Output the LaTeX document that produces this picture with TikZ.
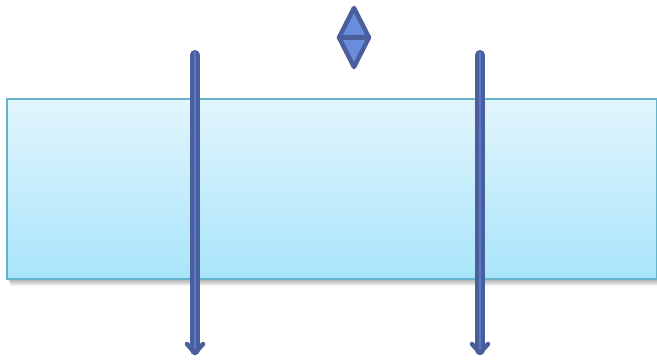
\documentclass[tikz,border=0pt]{standalone}
\definecolor{boxtop}{HTML}{E2F5FD}
\definecolor{boxbot}{HTML}{A9E5FB}
\definecolor{boxedge}{HTML}{62B3CB}
\definecolor{arrdark}{HTML}{4A5F9C}
\definecolor{arrlight}{HTML}{5878CC}
\definecolor{diafill}{HTML}{6A8CDC}
\tikzset{
  bar/.style={line width=10pt, line cap=round, draw=arrdark},
  barlight/.style={line width=2pt, draw=arrlight},
  tip/.style={line width=4.5pt, line cap=round, line join=round, draw=arrdark},
  dia/.style={line width=4.5pt, line join=round, draw=arrdark, fill=diafill},
}
\begin{document}
\begin{tikzpicture}[x=1pt,y=-1pt]
\useasboundingbox (0,0) rectangle (657,360);
% soft shadow
\foreach \d in {1,...,8}{
  \fill[black, opacity=0.05] (6+\d*0.6,98+\d) rectangle (656+\d*0.3,278+\d);
}
\node[draw=boxedge, line width=1.8pt, top color=boxtop, bottom color=boxbot,
      minimum width=650pt, minimum height=180pt, inner sep=0pt, anchor=north west]
      (box) at (6,98) {};
% diamond
\coordinate (dt) at (354,8);
\coordinate (dl) at (339,37.5);
\coordinate (dr) at (369,37.5);
\coordinate (db) at (354,67);
\draw[dia] (dt) -- (dr) -- (db) -- (dl) -- cycle;
\draw[line width=4.5pt, draw=arrdark] (dl) -- (dr);
% arrows
\foreach \n/\x in {a/195, b/480}{
  \coordinate (\n top) at (\x,55);
  \coordinate (\n bot) at (\x,350);
  \coordinate (\n tl) at (\x-8,344);
  \coordinate (\n tr) at (\x+8,344);
  \coordinate (\n tip) at (\x,353);
  \draw[bar] (\n top) -- (\n bot);
  \draw[barlight] ([yshift=3]\n top) -- ([yshift=-4]\n bot);
  \draw[tip] (\n tl) -- (\n tip) -- (\n tr);
}
\end{tikzpicture}
\end{document}
